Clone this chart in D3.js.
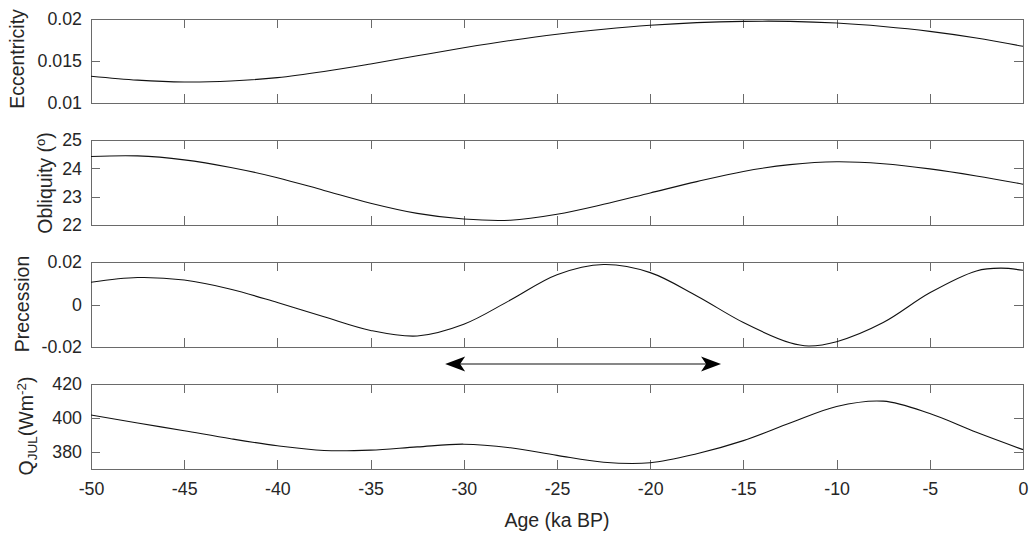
<!DOCTYPE html>
<html>
<head>
<meta charset="utf-8">
<script src="https://cdn.jsdelivr.net/npm/d3@7"></script>
<style>
  body { margin: 0; background: #fff; }
  svg { display: block; font-family: "Liberation Sans", Arial, sans-serif; }
</style>
</head>
<body>
<svg id="chart" width="1031" height="534"></svg>
<script>
// ---- Data ----
const xTicks = [-50, -45, -40, -35, -30, -25, -20, -15, -10, -5, 0];
const xTickLabels = ["-50", "-45", "-40", "-35", "-30", "-25", "-20", "-15", "-10", "-5", "0"];

const eccAge = [-50, -47.5, -45, -42.5, -40, -37.5, -35, -32.5, -30, -27.5, -25, -22.5, -20, -17.5, -15, -12.5, -10, -7.5, -5, -2.5, 0];
const eccVal = [0.01319, 0.01272, 0.01250, 0.01262, 0.01302, 0.01375, 0.01465, 0.01562, 0.01657, 0.01744, 0.01819, 0.01878, 0.01925, 0.01957, 0.01972, 0.01972, 0.01952, 0.01911, 0.01853, 0.01774, 0.01675];
const eccTicks = [0.01, 0.015, 0.02];
const eccTickLabels = ["0.01", "0.015", "0.02"];

const oblAge = [-50, -47.5, -45, -42.5, -40, -37.5, -35, -32.5, -30, -27.5, -25, -22.5, -20, -17.5, -15, -12.5, -10, -7.5, -5, -2.5, 0];
const oblVal = [24.42, 24.44, 24.30, 24.03, 23.67, 23.22, 22.77, 22.41, 22.21, 22.17, 22.38, 22.73, 23.13, 23.53, 23.89, 24.13, 24.23, 24.16, 23.98, 23.73, 23.44];
const oblTicks = [22, 23, 24, 25];
const oblTickLabels = ["22", "23", "24", "25"];

const preAge = [-50, -47.5, -45, -42.5, -40, -37.5, -35, -32.5, -30, -27.5, -25, -22.5, -20, -17.5, -15, -12.5, -11.5, -10, -7.5, -5, -2.5, -1.2, 0];
const preVal = [0.0105, 0.0127, 0.0115, 0.0072, 0.0009, -0.0058, -0.0122, -0.0148, -0.0093, 0.0021, 0.0140, 0.0188, 0.0150, 0.0040, -0.0085, -0.0180, -0.0195, -0.0175, -0.0085, 0.0055, 0.0158, 0.0171, 0.0161];
const preTicks = [-0.02, 0, 0.02];
const preTickLabels = ["-0.02", "0", "0.02"];

const qAge = [-50, -47.5, -45, -42.5, -40, -37.5, -35, -32.5, -30, -27.5, -25, -22.5, -20, -17.5, -15, -12.5, -10, -7.5, -5, -2.5, 0];
const qVal = [401.8, 397.1, 392.5, 387.8, 383.7, 380.9, 381.1, 383.0, 384.6, 382.5, 378.0, 374.0, 373.7, 379.0, 386.7, 397.0, 406.8, 409.9, 402.6, 391.6, 381.4];
const qTicks = [380, 400, 420];
const qTickLabels = ["380", "400", "420"];

const arrowAges = [-31.0, -16.2];

// ---- Layout ----
const svg = d3.select("#chart");
const x = d3.scaleLinear().domain([-50, 0]).range([91, 1023]);
const axisColor = "#6a6a6a";
const textColor = "#262626";
const tickFont = 17.8;
const labelFont = 19.5;
const tickLen = 9;

const panels = [
  { age: eccAge, val: eccVal, domain: [0.01, 0.02], range: [103, 19], ticks: eccTicks, labels: eccTickLabels, last: false },
  { age: oblAge, val: oblVal, domain: [22, 25], range: [225, 140], ticks: oblTicks, labels: oblTickLabels, last: false },
  { age: preAge, val: preVal, domain: [-0.02, 0.02], range: [347, 262], ticks: preTicks, labels: preTickLabels, last: false },
  { age: qAge, val: qVal, domain: [370, 420], range: [469, 384], ticks: qTicks, labels: qTickLabels, last: true }
];

function styleAxis(g) {
  g.selectAll(".domain").attr("stroke", axisColor).attr("stroke-width", 1);
  g.selectAll(".tick line").attr("stroke", axisColor).attr("stroke-width", 1);
  g.selectAll("text").attr("fill", textColor).attr("font-size", tickFont)
    .attr("font-family", '"Liberation Sans", Arial, sans-serif');
  g.attr("shape-rendering", "crispEdges");
}

panels.forEach(p => {
  const y = d3.scaleLinear().domain(p.domain).range(p.range);
  const top = p.range[1], bottom = p.range[0];

  const bAxis = d3.axisBottom(x).tickValues(xTicks).tickSizeInner(-tickLen).tickSizeOuter(0).tickPadding(13)
    .tickFormat((d, i) => p.last ? xTickLabels[i] : "");
  svg.append("g").attr("transform", `translate(0,${bottom})`).call(bAxis).call(styleAxis);

  const tAxis = d3.axisTop(x).tickValues(xTicks).tickSizeInner(-tickLen).tickSizeOuter(0).tickFormat("");
  svg.append("g").attr("transform", `translate(0,${top})`).call(tAxis).call(styleAxis);

  const lAxis = d3.axisLeft(y).tickValues(p.ticks).tickSizeInner(-tickLen).tickSizeOuter(0).tickPadding(9)
    .tickFormat((d, i) => p.labels[i]);
  svg.append("g").attr("transform", `translate(${x.range()[0]},0)`).call(lAxis).call(styleAxis);

  const rAxis = d3.axisRight(y).tickValues(p.ticks).tickSizeInner(-tickLen).tickSizeOuter(0).tickFormat("");
  svg.append("g").attr("transform", `translate(${x.range()[1]},0)`).call(rAxis).call(styleAxis);

  const pts = p.age.map((a, i) => [a, p.val[i]]);
  svg.append("path")
    .datum(pts)
    .attr("fill", "none")
    .attr("stroke", "#111")
    .attr("stroke-width", 1.1)
    .attr("d", d3.line().x(d => x(d[0])).y(d => y(d[1])).curve(d3.curveCatmullRom.alpha(0.5)));
});

// ---- Y labels ----
function ylab(cx, cy) {
  return svg.append("text")
    .attr("transform", `translate(${cx},${cy}) rotate(-90)`)
    .attr("text-anchor", "middle")
    .attr("font-size", labelFont)
    .attr("fill", textColor);
}
ylab(24, 59).text("Eccentricity");
const ob = ylab(52, 183);
ob.append("tspan").text("Obliquity (");
ob.append("tspan").attr("font-size", 13).attr("dy", -7).text("o");
ob.append("tspan").attr("dy", 7).text(")");
ylab(29, 304).text("Precession");
const q = ylab(33, 426);
q.append("tspan").text("Q");
q.append("tspan").attr("font-size", 13.5).attr("dy", 4).text("JUL");
q.append("tspan").attr("dy", -4).text("(Wm");
q.append("tspan").attr("font-size", 13.5).attr("dy", -7).text("-2");
q.append("tspan").attr("dy", 7).text(")");

// ---- X label ----
svg.append("text")
  .attr("x", (x.range()[0] + x.range()[1]) / 2)
  .attr("y", 527)
  .attr("text-anchor", "middle")
  .attr("font-size", labelFont)
  .attr("fill", textColor)
  .text("Age (ka BP)");

// ---- Double arrow ----
const ay = 364;
const x1 = x(arrowAges[0]), x2 = x(arrowAges[1]);
svg.append("line").attr("x1", x1 + 10).attr("x2", x2 - 10).attr("y1", ay).attr("y2", ay)
  .attr("stroke", "#111").attr("stroke-width", 1.2);
const hl = 20, hw = 7.5, notch = 15;
svg.append("path").attr("fill", "#000")
  .attr("d", `M${x1},${ay} L${x1 + hl},${ay - hw} L${x1 + notch},${ay} L${x1 + hl},${ay + hw} Z`);
svg.append("path").attr("fill", "#000")
  .attr("d", `M${x2},${ay} L${x2 - hl},${ay - hw} L${x2 - notch},${ay} L${x2 - hl},${ay + hw} Z`);
</script>
</body>
</html>
